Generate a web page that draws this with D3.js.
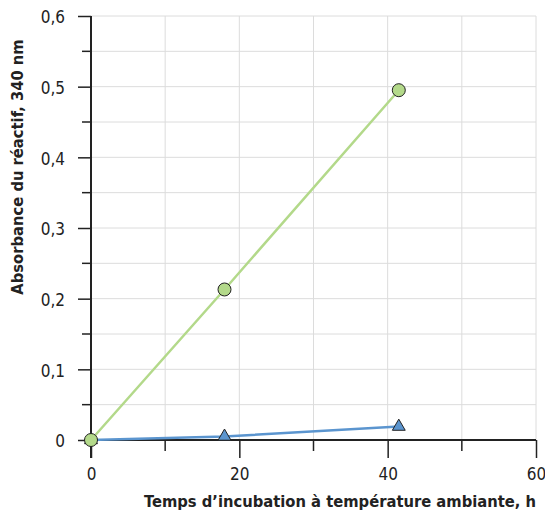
<!DOCTYPE html>
<meta charset="utf-8">
<script src="https://d3js.org/d3.v7.min.js"></script>
<style>
  body { margin: 0; background: #fff; }
  .tick text { font-family: "Liberation Sans Narrow", "DejaVu Sans Condensed", sans-serif; font-size: 17px; fill: #222; }
  .title { font-family: "Liberation Sans Narrow", "DejaVu Sans Condensed", sans-serif; font-weight: bold; font-size: 16.4px; fill: #222; }
</style>
<div id="chart"></div>
<script>
// temps d'incubation (h)
var hours = [0, 18, 41.5];
// absorbance, serie verte (cercles)
var greenVals = [0, 0.213, 0.495];
// absorbance, serie bleue (triangles)
var blueVals = [0, 0.005, 0.019];
var xTicks = [0, 20, 40, 60];
var yTicks = [0, 0.1, 0.2, 0.3, 0.4, 0.5, 0.6];

var margin = {top: 16, right: 9, bottom: 73, left: 91},
  width = 545 - margin.left - margin.right,
  height = 513 - margin.top - margin.bottom;

var svg = d3.select("#chart").append("svg")
  .attr("width", 545).attr("height", 513)
  .append("g")
  .attr("transform", "translate(" + margin.left + "," + margin.top + ")");

var x = d3.scaleLinear().domain([0, 60]).range([0, width]);
var y = d3.scaleLinear().domain([0, 0.6]).range([height, 0]);

// grid
svg.selectAll(".vgrid").data(d3.range(10, 61, 10)).enter().append("line")
  .attr("x1", d => x(d)).attr("x2", d => x(d))
  .attr("y1", 0).attr("y2", height)
  .attr("stroke", "#dcdcdc").attr("stroke-width", 1);
svg.selectAll(".hgrid").data(d3.range(1, 13).map(d => d * 0.05)).enter().append("line")
  .attr("x1", 0).attr("x2", width)
  .attr("y1", d => y(d)).attr("y2", d => y(d))
  .attr("stroke", "#dcdcdc").attr("stroke-width", 1);

// minor ticks
svg.selectAll(".ymin").data(d3.range(0, 6).map(d => d * 0.1 + 0.05)).enter().append("line")
  .attr("x1", -9).attr("x2", 0).attr("y1", d => y(d)).attr("y2", d => y(d))
  .attr("stroke", "#222").attr("stroke-width", 1.5);
svg.selectAll(".xmin").data([10, 30, 50]).enter().append("line")
  .attr("x1", d => x(d)).attr("x2", d => x(d)).attr("y1", height).attr("y2", height + 11)
  .attr("stroke", "#222").attr("stroke-width", 1.5);

var yAxis = svg.append("g")
  .call(d3.axisLeft(y).tickValues(yTicks).tickSize(13).tickPadding(13)
    .tickFormat(d => d === 0 ? "0" : d3.format(".1f")(d).replace(".", ",")));
var xAxis = svg.append("g")
  .attr("transform", "translate(0," + height + ")")
  .call(d3.axisBottom(x).tickValues(xTicks).tickSize(18).tickPadding(10));

[yAxis, xAxis].forEach(function(a) {
  a.select(".domain").remove();
  a.selectAll(".tick line").attr("stroke", "#222").attr("stroke-width", 1.5);
});
yAxis.selectAll(".tick text").attr("dy", "0.4em");

// axis lines
svg.append("line").attr("x1", 0).attr("x2", 0).attr("y1", 0).attr("y2", height + 18)
  .attr("stroke", "#222").attr("stroke-width", 2);
svg.append("line").attr("x1", 0).attr("x2", width).attr("y1", height).attr("y2", height)
  .attr("stroke", "#222").attr("stroke-width", 2);

var line = d3.line().x(d => x(d[0])).y(d => y(d[1]));
var green = hours.map((h, i) => [h, greenVals[i]]);
var blue = hours.map((h, i) => [h, blueVals[i]]);

svg.append("path").datum(green).attr("d", line)
  .attr("fill", "none").attr("stroke", "#b3d98a").attr("stroke-width", 2.5);
svg.append("path").datum(blue).attr("d", line)
  .attr("fill", "none").attr("stroke", "#5b95cf").attr("stroke-width", 2.5);

svg.selectAll(".tri").data(blue).enter().append("path")
  .attr("d", d3.symbol().type(d3.symbolTriangle).size(72))
  .attr("transform", d => "translate(" + x(d[0]) + "," + y(d[1]) + ")")
  .attr("fill", "#5b95cf").attr("stroke", "#222").attr("stroke-width", 1);
svg.selectAll(".circ").data(green).enter().append("circle")
  .attr("cx", d => x(d[0])).attr("cy", d => y(d[1])).attr("r", 6.5)
  .attr("fill", "#b3d98a").attr("stroke", "#222").attr("stroke-width", 1);

// titles
svg.append("text").attr("class", "title")
  .attr("x", width).attr("y", height + 67).attr("text-anchor", "end")
  .text("Temps d\u2019incubation à température ambiante, h");
svg.append("text").attr("class", "title")
  .attr("transform", "translate(" + (-68) + "," + 151 + ") rotate(-90)")
  .attr("text-anchor", "middle")
  .text("Absorbance du réactif, 340 nm");
</script>
